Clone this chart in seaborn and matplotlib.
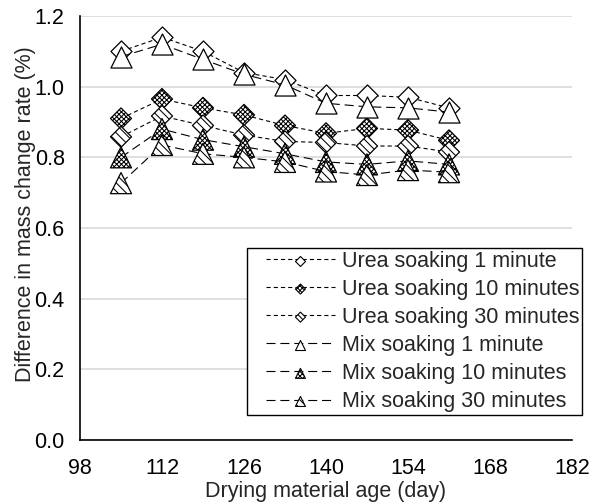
import matplotlib
matplotlib.use("Agg")
import matplotlib.pyplot as plt
import seaborn as sns
import pandas as pd
from matplotlib.legend_handler import HandlerTuple

# ---- data ----
days = [105, 112, 119, 126, 133, 140, 147, 154, 161]
urea_1 = [1.10, 1.14, 1.10, 1.04, 1.02, 0.975, 0.975, 0.97, 0.94]
urea_10 = [0.91, 0.965, 0.94, 0.92, 0.89, 0.868, 0.882, 0.877, 0.848]
urea_30 = [0.858, 0.917, 0.89, 0.863, 0.845, 0.842, 0.832, 0.832, 0.815]
mix_1 = [1.085, 1.12, 1.077, 1.035, 1.005, 0.953, 0.943, 0.94, 0.928]
mix_10 = [0.80, 0.88, 0.85, 0.83, 0.81, 0.787, 0.78, 0.79, 0.78]
mix_30 = [0.727, 0.835, 0.81, 0.80, 0.787, 0.76, 0.75, 0.764, 0.758]
series_labels = ["Urea soaking 1 minute", "Urea soaking 10 minutes", "Urea soaking 30 minutes",
                 "Mix soaking 1 minute", "Mix soaking 10 minutes", "Mix soaking 30 minutes"]
x_ticks = [98, 112, 126, 140, 154, 168, 182]
y_ticks = [0.0, 0.2, 0.4, 0.6, 0.8, 1.0, 1.2]
x_label = "Drying material age (day)"
y_label = "Difference in mass change rate (%)"

sns.set_style("white")
plt.rcParams["font.family"] = ["Liberation Sans", "DejaVu Sans"]
plt.rcParams["lines.scale_dashes"] = False
plt.rcParams["hatch.linewidth"] = 0.75


class OffsetTupleHandler(HandlerTuple):
    """Overlay line + marker, leaving a blank gap at the left of the handle."""
    def __init__(self, offset_frac, **kw):
        super().__init__(ndivide=1, pad=0, **kw)
        self.offset_frac = offset_frac

    def create_artists(self, legend, orig_handle, xdescent, ydescent, width, height,
                       fontsize, trans):
        off = self.offset_frac * width
        return super().create_artists(legend, orig_handle, xdescent - off, ydescent,
                                      width - off, height, fontsize, trans)


FS = 15.5
fig = plt.figure(figsize=(5.92, 5.04), dpi=100)
ax = fig.add_axes([80 / 592, 1 - 440 / 504, (572 - 80) / 592, (440 - 16) / 504])

values = [urea_1, urea_10, urea_30, mix_1, mix_10, mix_30]
markers = ["D", "D", "D", "^", "^", "^"]
sizes = [115, 115, 115, 230, 230, 230]
leg_sizes = [26, 26, 26, 52, 52, 52]
hatches = [None, "xxxxxxx", "\\\\\\\\", None, "xxxxxxx", "\\\\\\\\"]
dash_urea = (0, (3.0, 2.2))
dash_mix = (0, (6.5, 3.5))
styles = [dash_urea] * 3 + [dash_mix] * 3

handles = []
for i, (vals, lab) in enumerate(zip(values, series_labels)):
    df = pd.DataFrame({"day": days, "value": vals})
    sns.lineplot(data=df, x="day", y="value", ax=ax, color="black", linewidth=0.8,
                 linestyle=styles[i], zorder=3 + 2 * i)
    kw = dict(marker=markers[i], s=sizes[i], color="white", edgecolor="black",
              linewidth=0.9, zorder=4 + 2 * i)
    if hatches[i]:
        kw["hatch"] = hatches[i]
    sns.scatterplot(data=df, x="day", y="value", ax=ax, **kw)
    # legend proxies
    line_h, = ax.plot([], [], color="black", linewidth=0.8, linestyle=styles[i])
    pkw = dict(marker=markers[i], s=leg_sizes[i], facecolor="white", edgecolor="black",
               linewidth=0.8)
    if hatches[i]:
        pkw["hatch"] = hatches[i]
    sc_h = ax.scatter([], [], **pkw)
    handles.append((line_h, sc_h))

ax.set_xlim(98, 182)
ax.set_ylim(0, 1.2)
ax.set_xticks(x_ticks)
ax.set_yticks(y_ticks)
ax.set_yticklabels([f"{v:.1f}" for v in y_ticks])
ax.tick_params(axis="both", length=0, labelsize=FS, colors="black")
ax.tick_params(axis="x", pad=13)
ax.tick_params(axis="y", pad=11)
ax.grid(axis="y", color="#d9d9d9", linewidth=1.2)
ax.grid(axis="x", visible=False)
ax.set_axisbelow(True)
for s in ["top", "right"]:
    ax.spines[s].set_visible(False)
for s in ["left", "bottom"]:
    ax.spines[s].set_color("black")
    ax.spines[s].set_linewidth(1.2)
    ax.spines[s].set_zorder(2.5)

ax.set_xlabel(x_label, fontsize=FS, labelpad=1.5)
ax.set_ylabel(y_label, fontsize=FS)
ax.yaxis.set_label_coords(-0.09, 0.533)

leg = ax.legend(handles, series_labels, handler_map={tuple: OffsetTupleHandler(0.19)},
                loc="upper left", bbox_to_anchor=(247 / 592, 1 - 248 / 504),
                bbox_transform=fig.transFigure, borderaxespad=0, fontsize=FS,
                handlelength=3.97, handletextpad=0.33, labelspacing=0.33,
                borderpad=0.12, fancybox=False, framealpha=1, edgecolor="black",
                scatterpoints=1)
leg.get_frame().set_linewidth(1.0)
leg.set_zorder(20)

fig.savefig("out.png", dpi=100)
